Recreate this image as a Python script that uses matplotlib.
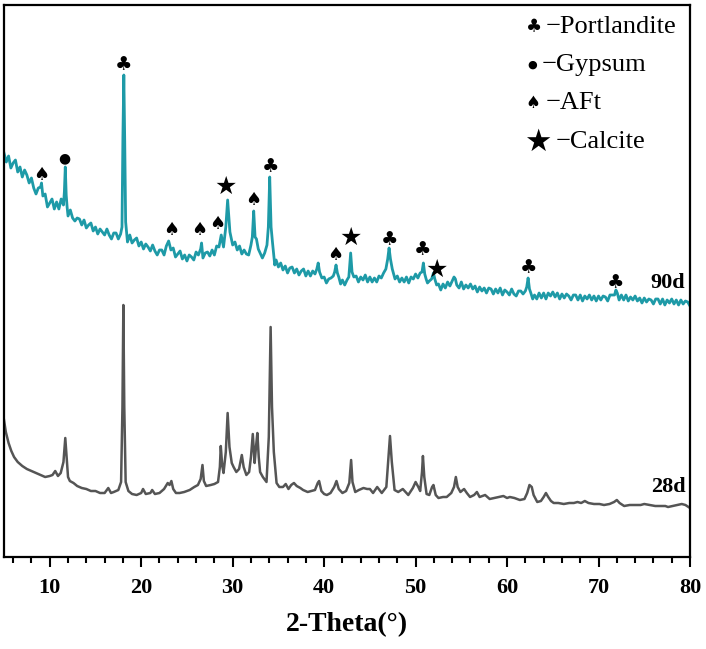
import matplotlib
matplotlib.use("Agg")
import matplotlib.pyplot as plt
from matplotlib.ticker import MultipleLocator

# ---------------- data (2-theta in degrees, intensity in arbitrary units) -------------
theta_90d = [5.0, 5.25, 5.5, 5.75, 6.0, 6.25, 6.5, 6.75, 7.0, 7.25, 7.5, 7.75, 8.0, 8.25, 8.5, 8.75,
             9.0, 9.1, 9.25, 9.5, 9.75, 10.0, 10.25, 10.5, 10.75, 11.0, 11.25, 11.5, 11.6, 11.7, 11.8,
             11.9, 12.0, 12.25, 12.5, 12.75, 13.0, 13.25, 13.5, 13.75, 14.0, 14.25, 14.5, 14.75, 15.0,
             15.25, 15.5, 15.75, 16.0, 16.25, 16.5, 16.75, 17.0, 17.25, 17.5, 17.75, 17.9, 18.0, 18.1,
             18.2, 18.3, 18.5, 18.75, 19.0, 19.25, 19.5, 19.75, 20.0, 20.25, 20.5, 20.75, 21.0, 21.25,
             21.5, 21.75, 22.0, 22.25, 22.5, 22.75, 23.0, 23.25, 23.5, 23.75, 24.0, 24.25, 24.5, 24.75,
             25.0, 25.25, 25.5, 25.75, 26.0, 26.25, 26.5, 26.6, 26.75, 27.0, 27.25, 27.5, 27.75, 28.0,
             28.25, 28.5, 28.75, 29.0, 29.25, 29.45, 29.7, 30.0, 30.25, 30.5, 30.75, 31.0, 31.25, 31.5,
             31.75, 32.0, 32.15, 32.3, 32.45, 32.6, 32.8, 33.0, 33.25, 33.5, 33.75, 33.9, 34.05, 34.2,
             34.35, 34.6, 34.75, 35.0, 35.25, 35.5, 35.75, 36.0, 36.25, 36.5, 36.75, 37.0, 37.25, 37.5,
             37.75, 38.0, 38.25, 38.5, 38.75, 39.0, 39.2, 39.35, 39.5, 39.75, 40.0, 40.25, 40.5, 40.75,
             41.0, 41.15, 41.3, 41.45, 41.6, 41.8, 42.0, 42.25, 42.5, 42.7, 42.9, 43.05, 43.25, 43.5,
             43.75, 44.0, 44.25, 44.5, 44.75, 45.0, 45.25, 45.5, 45.75, 46.0, 46.25, 46.5, 46.75, 46.95,
             47.1, 47.25, 47.45, 47.75, 48.0, 48.25, 48.5, 48.75, 49.0, 49.25, 49.5, 49.75, 50.0, 50.25,
             50.5, 50.7, 50.85, 51.0, 51.15, 51.3, 51.5, 51.75, 51.95, 52.1, 52.3, 52.5, 52.75, 53.0,
             53.25, 53.5, 53.75, 54.0, 54.2, 54.35, 54.5, 54.75, 55.0, 55.25, 55.5, 55.75, 56.0, 56.25,
             56.5, 56.75, 57.0, 57.25, 57.5, 57.75, 58.0, 58.25, 58.5, 58.75, 59.0, 59.25, 59.5, 59.75,
             60.0, 60.25, 60.5, 60.75, 61.0, 61.25, 61.5, 61.75, 62.0, 62.15, 62.3, 62.45, 62.6, 62.8,
             63.0, 63.25, 63.5, 63.75, 64.0, 64.25, 64.5, 64.75, 65.0, 65.25, 65.5, 65.75, 66.0, 66.25,
             66.5, 66.75, 67.0, 67.25, 67.5, 67.75, 68.0, 68.25, 68.5, 68.75, 69.0, 69.25, 69.5, 69.75,
             70.0, 70.25, 70.5, 70.75, 71.0, 71.25, 71.5, 71.75, 71.9, 72.05, 72.25, 72.5, 72.75, 73.0,
             73.25, 73.5, 73.75, 74.0, 74.25, 74.5, 74.75, 75.0, 75.25, 75.5, 75.75, 76.0, 76.25, 76.5,
             76.75, 77.0, 77.25, 77.5, 77.75, 78.0, 78.25, 78.5, 78.75, 79.0, 79.25, 79.5, 79.75, 80.0]
int_90d = [404, 395, 401, 389, 394, 397, 385, 390, 380, 387, 382, 374, 379, 369, 363, 369,
           370, 374, 361, 363, 350, 354, 358, 348, 355, 348, 358, 352, 365, 390, 362,
           350, 341, 347, 339, 336, 339, 338, 332, 337, 329, 332, 334, 326, 330,
           323, 328, 325, 322, 328, 322, 318, 324, 324, 318, 323, 330, 420, 482,
           415, 335, 315, 322, 314, 317, 319, 311, 315, 308, 313, 310, 306, 312,
           306, 302, 307, 307, 302, 311, 316, 307, 309, 300, 303, 306, 298, 302,
           296, 302, 300, 297, 305, 302, 308, 314, 299, 304, 305, 301, 307, 302,
           311, 310, 322, 310, 330, 357, 325, 312, 315, 307, 311, 303, 307, 303,
           302, 312, 320, 346, 320, 318, 308, 304, 299, 304, 312, 330, 380, 330,
           315, 292, 297, 290, 294, 287, 291, 284, 289, 290, 284, 288, 282, 286,
           288, 281, 286, 281, 286, 283, 288, 294, 285, 279, 280, 274, 278, 279,
           281, 285, 292, 284, 280, 273, 277, 272, 277, 280, 304, 285, 280, 281,
           275, 280, 277, 282, 275, 280, 275, 279, 275, 281, 279, 284, 288, 298,
           309, 298, 288, 278, 281, 275, 279, 275, 280, 274, 280, 278, 283, 279,
           284, 285, 294, 283, 278, 274, 276, 278, 284, 278, 272, 273, 267, 273,
           269, 275, 271, 276, 280, 278, 272, 269, 275, 268, 272, 269, 273, 268,
           271, 265, 270, 266, 269, 264, 269, 268, 263, 268, 264, 269, 262, 267,
           265, 262, 268, 263, 261, 266, 266, 263, 266, 270, 279, 268, 264, 258,
           262, 258, 264, 259, 264, 258, 264, 261, 265, 260, 264, 258, 263, 259,
           263, 261, 257, 262, 262, 257, 262, 256, 261, 258, 262, 257, 261, 256,
           261, 257, 261, 260, 256, 262, 262, 262, 267, 264, 257, 262, 257, 262,
           256, 260, 257, 261, 256, 259, 254, 259, 255, 258, 257, 253, 258, 258,
           253, 258, 252, 257, 254, 258, 253, 257, 252, 257, 253, 256, 255, 251]

theta_28d = [5.0, 5.2, 5.5, 5.8, 6.1, 6.5, 7.0, 7.5, 8.0, 8.5, 9.0, 9.5, 10.0, 10.3, 10.6, 10.9,
             11.2, 11.5, 11.7, 11.85, 12.0, 12.2, 12.6, 13.0, 13.5, 14.0, 14.5, 15.0, 15.5, 16.0,
             16.4, 16.7, 17.0, 17.5, 17.8, 17.95, 18.05, 18.15, 18.3, 18.6, 19.0, 19.5, 20.0, 20.2,
             20.5, 21.0, 21.2, 21.5, 22.0, 22.5, 22.9, 23.1, 23.3, 23.5, 23.8, 24.2, 24.7, 25.3,
             25.8, 26.2, 26.5, 26.7, 26.85, 27.1, 27.6, 28.0, 28.4, 28.6, 28.7, 28.85, 29.0, 29.25,
             29.45, 29.65, 29.9, 30.1, 30.4, 30.7, 31.0, 31.2, 31.5, 31.8, 32.0, 32.2, 32.4, 32.55,
             32.7, 32.85, 33.0, 33.3, 33.7, 33.95, 34.15, 34.3, 34.5, 34.65, 34.8, 35.1, 35.5, 35.8,
             36.1, 36.4, 36.7, 37.0, 37.4, 37.7, 38.2, 38.6, 39.0, 39.3, 39.45, 39.7, 40.0, 40.3,
             40.7, 41.1, 41.35, 41.6, 42.0, 42.4, 42.75, 42.95, 43.1, 43.4, 43.8, 44.3, 44.7, 45.0,
             45.35, 45.8, 46.3, 46.8, 47.0, 47.2, 47.4, 47.7, 48.1, 48.6, 49.2, 49.7, 50.0, 50.3,
             50.5, 50.7, 50.8, 50.95, 51.2, 51.5, 51.8, 51.95, 52.2, 52.5, 53.0, 53.4, 53.9, 54.2,
             54.4, 54.6, 54.9, 55.3, 55.6, 55.95, 56.4, 56.7, 57.0, 57.6, 58.1, 58.6, 59.1, 59.6,
             60.0, 60.3, 60.8, 61.4, 61.9, 62.2, 62.45, 62.7, 62.9, 63.3, 63.7, 64.0, 64.25, 64.5,
             64.8, 65.1, 65.6, 66.2, 66.8, 67.3, 67.7, 68.1, 68.5, 68.9, 69.5, 70.1, 70.6, 71.2,
             71.7, 72.0, 72.3, 72.8, 73.4, 74.0, 74.6, 75.0, 75.6, 76.2, 76.8, 77.3, 77.6, 78.1,
             78.6, 79.1, 79.5, 80.0]
int_28d = [137, 125, 114, 106, 100, 95, 91, 88, 86, 84, 82, 80, 81, 82, 86, 81,
           84, 95, 119, 100, 80, 76, 74, 71, 69, 68, 66, 66, 64, 64,
           69, 64, 65, 67, 75, 150, 252, 150, 75, 66, 63, 62, 64, 68,
           63, 64, 67, 63, 64, 68, 74, 72, 76, 68, 64, 64, 65, 67,
           70, 72, 78, 92, 76, 71, 72, 73, 75, 90, 111, 92, 84, 105,
           144, 110, 94, 90, 85, 88, 102, 90, 82, 85, 100, 123, 94, 110,
           124, 100, 85, 80, 75, 120, 230, 150, 105, 90, 74, 70, 70, 73,
           68, 72, 74, 71, 69, 67, 65, 66, 67, 74, 76, 66, 63, 62,
           64, 70, 76, 68, 64, 66, 74, 97, 75, 65, 67, 69, 68, 68,
           64, 70, 64, 70, 95, 121, 95, 67, 65, 68, 62, 69, 75, 70,
           66, 85, 101, 80, 63, 62, 70, 72, 62, 59, 60, 60, 64, 70,
           80, 70, 65, 68, 64, 60, 62, 65, 60, 62, 58, 59, 60, 61,
           59, 60, 59, 57, 58, 64, 72, 70, 62, 55, 56, 60, 64, 60,
           56, 54, 54, 53, 54, 54, 55, 54, 56, 54, 53, 53, 52, 53,
           55, 57, 54, 51, 52, 52, 52, 53, 52, 51, 51, 51, 50, 51,
           52, 53, 52, 49]

# phase markers: (symbol, 2-theta, label height)
marker_symbols = ["\u2660", "\u25CF", "\u2663", "\u2660", "\u2660", "\u2660", "\u2605", "\u2660",
                  "\u2663", "\u2660", "\u2605", "\u2663", "\u2663", "\u2605", "\u2663", "\u2663"]
marker_theta = [9.1, 11.6, 18.1, 23.3, 26.3, 28.3, 29.2, 32.2,
                34.1, 41.2, 42.9, 47.2, 50.8, 52.3, 62.3, 71.9]
marker_height = [382, 399, 492, 327, 327, 333, 370, 357,
                 390, 302, 319, 317, 307, 287, 289, 274]

legend_symbols = ["\u2663", "\u25CF", "\u2660", "\u2605"]
legend_names = ["Portlandite", "Gypsum", "AFt", "Calcite"]
series_labels = ["90d", "28d"]
x_ticks = [10, 20, 30, 40, 50, 60, 70, 80]

# ---------------- styling ------------------------------------------------------------
TEAL = "#1E9AA7"
GRAY = "#555555"
SERIF = ["Liberation Serif", "DejaVu Serif"]
SYM = ["DejaVu Sans"]
sym_size = {"\u2663": 14, "\u2660": 13, "\u2605": 18, "\u25CF": 10}
key_size = {"\u2663": 13, "\u2660": 12, "\u2605": 22, "\u25CF": 8}

fig = plt.figure(figsize=(7.06, 6.49), dpi=100)
ax = fig.add_axes([4 / 706, 1 - 557 / 649, 686 / 706, 552 / 649])

ax.plot(theta_28d, int_28d, color=GRAY, lw=1.8, solid_joinstyle="round")
ax.plot(theta_90d, int_90d, color=TEAL, lw=2.0, solid_joinstyle="round")

for s, t, h in zip(marker_symbols, marker_theta, marker_height):
    ax.text(t, h, s, family=SYM, fontsize=sym_size[s], ha="center", va="center", color="black")

# legend-like key in the upper right
key_y = [530, 492, 454, 415]
key_sym_x = [62.9, 62.7, 62.8, 63.4]
key_txt_x = [64.2, 63.8, 64.2, 65.3]
for s, name, y, xs, xt in zip(legend_symbols, legend_names, key_y, key_sym_x, key_txt_x):
    ax.text(xs, y, s, family=SYM, fontsize=key_size[s], ha="center", va="center", color="black")
    ax.text(xt, y, "\u2212" + name, family=SERIF, fontsize=19, ha="left", va="center")

ax.text(79.5, 274, series_labels[0], family=SERIF, fontsize=16, fontweight="bold",
        ha="right", va="center")
ax.text(79.5, 70, series_labels[1], family=SERIF, fontsize=16, fontweight="bold",
        ha="right", va="center")

ax.set_xlim(5, 80)
ax.set_ylim(0, 552)
ax.set_xticks(x_ticks)
ax.xaxis.set_minor_locator(MultipleLocator(2))
ax.set_yticks([])
ax.tick_params(axis="x", which="major", direction="out", length=7, width=1.5, pad=8)
ax.tick_params(axis="x", which="minor", direction="out", length=4.5, width=1.5)
for lab in ax.get_xticklabels():
    lab.set_family(SERIF)
    lab.set_fontweight("bold")
    lab.set_fontsize(16)
for sp in ax.spines.values():
    sp.set_linewidth(1.6)
ax.set_xlabel("2-Theta(\u00b0)", family=SERIF, fontsize=20, fontweight="bold", labelpad=10)

fig.savefig("out.png", dpi=100)
